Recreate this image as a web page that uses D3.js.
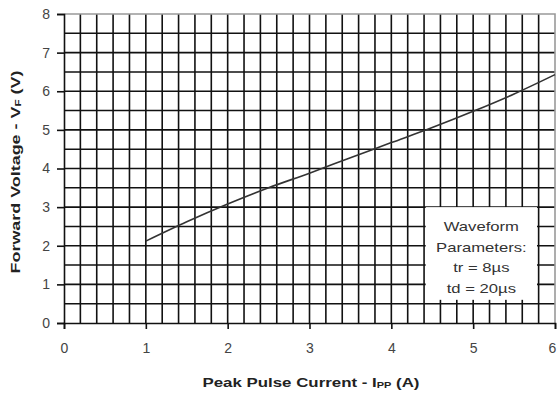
<!DOCTYPE html>
<html>
<head>
<meta charset="utf-8">
<script src="https://cdn.jsdelivr.net/npm/d3@7"></script>
<style>
  body { margin: 0; background: #fff; }
  svg { display: block; }
</style>
</head>
<body>
<div id="chart"></div>
<script>
// forward voltage vs peak pulse current
const current = [1.0, 1.5, 2.0, 2.5, 3.0, 3.5, 4.0, 4.5, 5.0, 5.5, 6.0];
const voltage = [2.12, 2.62, 3.08, 3.5, 3.88, 4.28, 4.67, 5.06, 5.48, 5.93, 6.43];
const xTicks = [0, 1, 2, 3, 4, 5, 6];
const yTicks = [0, 1, 2, 3, 4, 5, 6, 7, 8];
const noteLines = ["Waveform", "Parameters:", "tr = 8µs", "td = 20µs"];

const width = 557, height = 396;
const margin = {top: 14, right: 2, bottom: 73, left: 64};
const font = "'Liberation Sans', Arial, sans-serif";

const x = d3.scaleLinear([0, 6], [margin.left, width - margin.right]);
const y = d3.scaleLinear([0, 8], [height - margin.bottom, margin.top]);

const svg = d3.select("#chart").append("svg")
    .attr("width", width)
    .attr("height", height)
    .attr("viewBox", [0, 0, width, height])
    .style("font-family", font);

// grid: 0.2 A verticals, 0.5 V horizontals
const grid = svg.append("g").attr("stroke", "#111").attr("stroke-width", 1.6);
grid.selectAll("line.v")
  .data(d3.range(1, 30).map(i => i * 0.2))
  .join("line")
    .attr("x1", d => x(d)).attr("x2", d => x(d))
    .attr("y1", y(0)).attr("y2", y(8));
grid.selectAll("line.h")
  .data(d3.range(1, 16).map(i => i * 0.5))
  .join("line")
    .attr("x1", x(0)).attr("x2", x(6))
    .attr("y1", d => y(d)).attr("y2", d => y(d));

// lighter frame on top and right
svg.append("path")
    .attr("fill", "none")
    .attr("stroke", "#999")
    .attr("stroke-width", 1.6)
    .attr("d", `M${x(0)},${y(8)}H${x(6)}V${y(0)}`);

// note box hides the grid underneath
svg.append("rect")
    .attr("x", x(4.42)).attr("y", y(3.0))
    .attr("width", x(5.78) - x(4.42))
    .attr("height", y(0.6) - y(3.0))
    .attr("fill", "#fff");

// the scan is stretched sideways, so the note text is widened too
svg.append("g")
    .attr("transform", `translate(${x(5.1)},0) scale(1.28,1)`)
    .attr("fill", "#333")
    .attr("font-size", 13)
    .attr("text-anchor", "middle")
  .selectAll("text")
  .data(noteLines)
  .join("text")
    .attr("x", 0)
    .attr("y", (d, i) => y(2.38) + i * 20.7)
    .text(d => d);

// curve
const line = d3.line()
    .x((d, i) => x(current[i]))
    .y(d => y(d))
    .curve(d3.curveMonotoneX);

svg.append("path")
    .datum(voltage)
    .attr("fill", "none")
    .attr("stroke", "#333")
    .attr("stroke-width", 1.6)
    .attr("d", line);

// axes
const xAxis = svg.append("g")
    .attr("transform", `translate(0,${y(0)})`)
    .call(d3.axisBottom(x).tickValues(xTicks).tickSize(6).tickPadding(14).tickFormat(d3.format("d")));
const yAxis = svg.append("g")
    .attr("transform", `translate(${x(0)},0)`)
    .call(d3.axisLeft(y).tickValues(yTicks).tickSize(7).tickPadding(7).tickFormat(d3.format("d")));

[xAxis, yAxis].forEach(g => {
  g.select(".domain").attr("stroke", "#111").attr("stroke-width", 1.6);
  g.selectAll(".tick line").attr("stroke", "#111").attr("stroke-width", 1.6);
  g.selectAll(".tick text")
    .attr("fill", "#444")
    .attr("font-size", 14)
    .attr("font-family", font);
});
// keep the last label inside the window
xAxis.selectAll(".tick").filter(d => d === 6).select("text").attr("dx", -3);

// axis titles
const xTitle = svg.append("text")
    .attr("x", 311).attr("y", 387)
    .attr("text-anchor", "middle")
    .attr("font-size", 13)
    .attr("font-weight", "bold")
    .attr("fill", "#222")
    .attr("textLength", 217)
    .attr("lengthAdjust", "spacingAndGlyphs");
xTitle.append("tspan").text("Peak Pulse Current - I");
xTitle.append("tspan").attr("font-size", 8.5).attr("dy", 1).text("PP");
xTitle.append("tspan").attr("dy", -1).text(" (A)");

const yTitle = svg.append("text")
    .attr("transform", `translate(20,172) rotate(-90)`)
    .attr("text-anchor", "middle")
    .attr("font-size", 13)
    .attr("font-weight", "bold")
    .attr("fill", "#222")
    .attr("textLength", 203)
    .attr("lengthAdjust", "spacingAndGlyphs");
yTitle.append("tspan").text("Forward Voltage - V");
yTitle.append("tspan").attr("font-size", 8.5).attr("dy", 1).text("F");
yTitle.append("tspan").attr("dy", -1).text(" (V)");
</script>
</body>
</html>
